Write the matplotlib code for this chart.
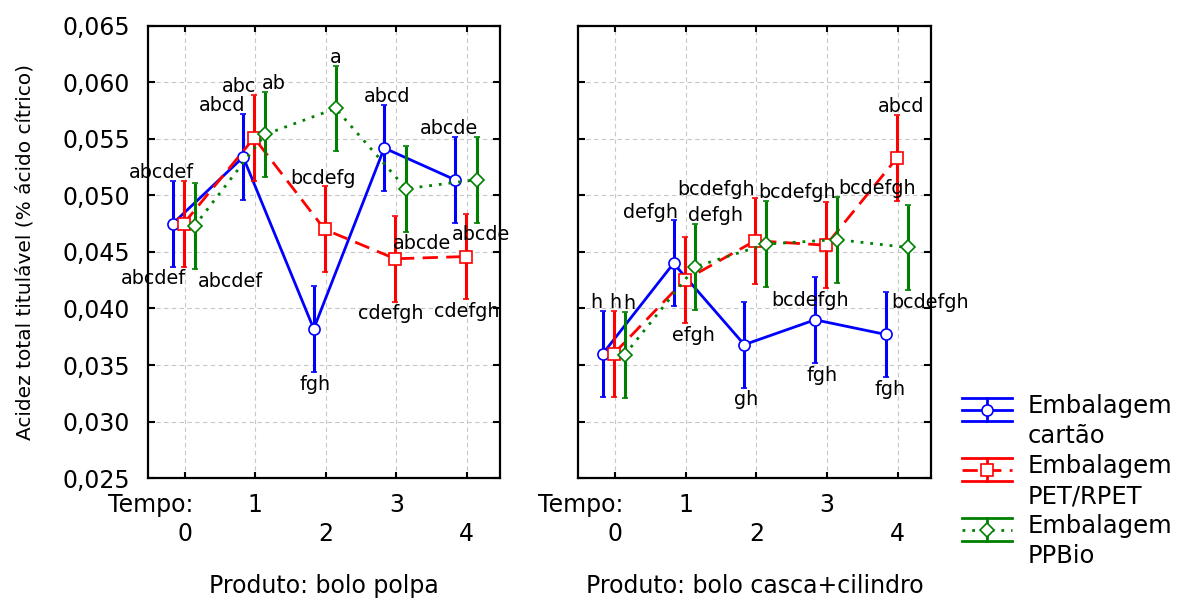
import matplotlib
matplotlib.use("Agg")
import matplotlib.pyplot as plt
from matplotlib.legend_handler import HandlerBase
from matplotlib.lines import Line2D
from matplotlib.ticker import FuncFormatter
import numpy as np

plt.rcParams["font.family"] = "DejaVu Sans"

tempo = [0, 1, 2, 3, 4]
produtos = ["bolo polpa", "bolo casca+cilindro"]
embalagens = ["Embalagem\ncartão", "Embalagem\nPET/RPET", "Embalagem\nPPBio"]

# médias por tempo - produto bolo polpa
polpa_cartao = [0.0475, 0.0534, 0.0382, 0.0542, 0.0514]
polpa_pet = [0.0475, 0.0551, 0.0470, 0.0444, 0.0446]
polpa_ppbio = [0.0473, 0.0554, 0.0577, 0.0506, 0.0514]

# médias por tempo - produto bolo casca+cilindro
casca_cartao = [0.0360, 0.0440, 0.0368, 0.0390, 0.0377]
casca_pet = [0.0360, 0.0425, 0.0460, 0.0456, 0.0533]
casca_ppbio = [0.0359, 0.0437, 0.0457, 0.0461, 0.0454]

# meia amplitude do intervalo de confiança
ic95 = 0.0038

# letras (Tukey)
polpa_cartao_letras = ["abcdef", "abcd", "fgh", "abcd", "abcde"]
polpa_pet_letras = ["abcdef", "abc", "bcdefg", "cdefgh", "cdefgh"]
polpa_ppbio_letras = ["abcdef", "ab", "a", "abcde", "abcde"]
casca_cartao_letras = ["h", "defgh", "gh", "fgh", "fgh"]
casca_pet_letras = ["h", "efgh", "bcdefgh", "bcdefgh", "abcd"]
casca_ppbio_letras = ["h", "defgh", "bcdefgh", "bcdefgh", "bcdefgh"]

# onde fica cada letra: lado (1 acima, -1 abaixo) e deslocamento em pontos
lado_polpa = [[1, 1, -1, 1, 1], [-1, 1, 1, -1, -1], [-1, 1, 1, -1, -1]]
dx_polpa = [[-8, -15, 1, 2, -4], [-22, -11, -1.5, -3, 1], [26, 6.5, 0, 11.5, 3]]
lado_casca = [[1, 1, -1, -1, -1], [1, -1, 1, -1, 1], [1, 1, 1, 1, -1]]
dx_casca = [[-5, -16.5, 1.5, 5, 3], [1, 6.5, -28, -11.5, 3], [3, 14.5, 22, 29, 16]]

cores = ["#0000ff", "#ff0000", "#008000"]
estilos = ["-", (0, (5.5, 3)), (0, (1, 2.5))]
marcadores = ["o", "s", "D"]
desloc = [-0.17, -0.015, 0.14]


class HandlerIC(HandlerBase):
    # barra de erro com tampas largas, alinhada na primeira linha do texto
    def create_artists(self, legend, orig_handle, xdescent, ydescent,
                       width, height, fontsize, trans):
        cor = orig_handle.get_color()
        ym = 0.86 * fontsize
        dy = 0.47 * fontsize
        x0, x1 = -xdescent, width - xdescent
        xm = (x0 + x1) / 2
        arts = [
            Line2D([x0, x1], [ym + dy, ym + dy], color=cor, lw=2),
            Line2D([x0, x1], [ym - dy, ym - dy], color=cor, lw=2),
            Line2D([xm, xm], [ym - dy, ym + dy], color=cor, lw=2),
        ]
        meio = Line2D([x0, x1], [ym, ym])
        self.update_prop(meio, orig_handle, legend)
        meio.set_marker("None")
        arts.append(meio)
        arts.append(Line2D([xm], [ym], ls="None", marker=orig_handle.get_marker(),
                           ms=orig_handle.get_markersize(), mfc="white",
                           mec=cor, mew=orig_handle.get_markeredgewidth()))
        for a in arts:
            a.set_transform(trans)
        return arts


fig = plt.figure(figsize=(11.78, 5.99), dpi=100)
ax1 = fig.add_axes([0.1256, 0.2020, 0.2988, 0.7546])
ax2 = fig.add_axes([0.4907, 0.2020, 0.2997, 0.7546], sharey=ax1)

paineis = [
    (ax1, produtos[0], [polpa_cartao, polpa_pet, polpa_ppbio],
     [polpa_cartao_letras, polpa_pet_letras, polpa_ppbio_letras], lado_polpa, dx_polpa),
    (ax2, produtos[1], [casca_cartao, casca_pet, casca_ppbio],
     [casca_cartao_letras, casca_pet_letras, casca_ppbio_letras], lado_casca, dx_casca),
]

x = np.array(tempo, dtype=float)
linhas = []
for ax, produto, series, letras, lados, dxs in paineis:
    for i, y in enumerate(series):
        eb = ax.errorbar(x + desloc[i], y, yerr=ic95, color=cores[i], ls=estilos[i], lw=2,
                         marker=marcadores[i], ms=8 if i < 2 else 7, mfc="white", mec=cores[i],
                         mew=1.2, elinewidth=2.2, capsize=2.5, capthick=2, zorder=3 + i)
        if ax is ax1:
            linhas.append(eb.lines[0])
        for j, letra in enumerate(letras[i]):
            s = lados[i][j]
            ax.annotate(letra, xy=(x[j] + desloc[i], y[j] + s * ic95),
                        xytext=(dxs[i][j], 2 if s > 0 else -2), textcoords="offset points",
                        ha="center", va="baseline" if s > 0 else "top",
                        fontsize=13.8, color="black", zorder=10)

    ax.set_xlim(-0.52, 4.47)
    ax.set_ylim(0.025, 0.065)
    ax.set_yticks(np.arange(0.025, 0.0651, 0.005))
    ax.yaxis.set_major_formatter(FuncFormatter(lambda v, p: f"{v:.3f}".replace(".", ",")))
    # tempos pares numa linha de baixo, impares em cima
    ax.set_xticks([0, 2, 4])
    ax.set_xticklabels(["0", "2", "4"])
    ax.set_xticks([1, 3], minor=True)
    ax.set_xticklabels(["1", "3"], minor=True)
    ax.tick_params(axis="x", which="both", direction="in", top=True, bottom=True,
                   length=4, width=1.5, labelsize=17)
    ax.tick_params(axis="x", which="major", pad=32)
    ax.tick_params(axis="x", which="minor", pad=11)
    ax.tick_params(axis="y", direction="in", left=True, right=True, length=5, width=1.5,
                   labelsize=17, pad=13)
    ax.grid(True, which="both", color="#c8c8c8", linestyle=(0, (4, 3)), lw=0.8, zorder=0)
    ax.set_axisbelow(True)
    for sp in ax.spines.values():
        sp.set_linewidth(1.6)
    ax.annotate("Tempo:", xy=(0, 0), xycoords=("data", "axes fraction"),
                xytext=(6.5, -11), textcoords="offset points", ha="right", va="top",
                fontsize=17)
    ax.set_xlabel(f"Produto: {produto}", fontsize=17)
    ax.xaxis.set_label_coords(0.5, -0.2125)

ax2.tick_params(axis="y", labelleft=False)

ax1.set_ylabel("Acidez total titulável (% ácido cítrico)", fontsize=14.5)
ax1.yaxis.label.set_verticalalignment("center")
ax1.yaxis.set_label_coords(-0.349, 0.5)

leg = fig.legend(linhas, embalagens, loc="upper left", bbox_to_anchor=(0.8166, 0.342),
                 frameon=False, fontsize=17.5, handlelength=2.06, handletextpad=0.66,
                 labelspacing=0.24, borderpad=0, borderaxespad=0,
                 handler_map={Line2D: HandlerIC()})
for t in leg.get_texts():
    t.set_linespacing(1.32)

fig.savefig("out.png", dpi=100)
